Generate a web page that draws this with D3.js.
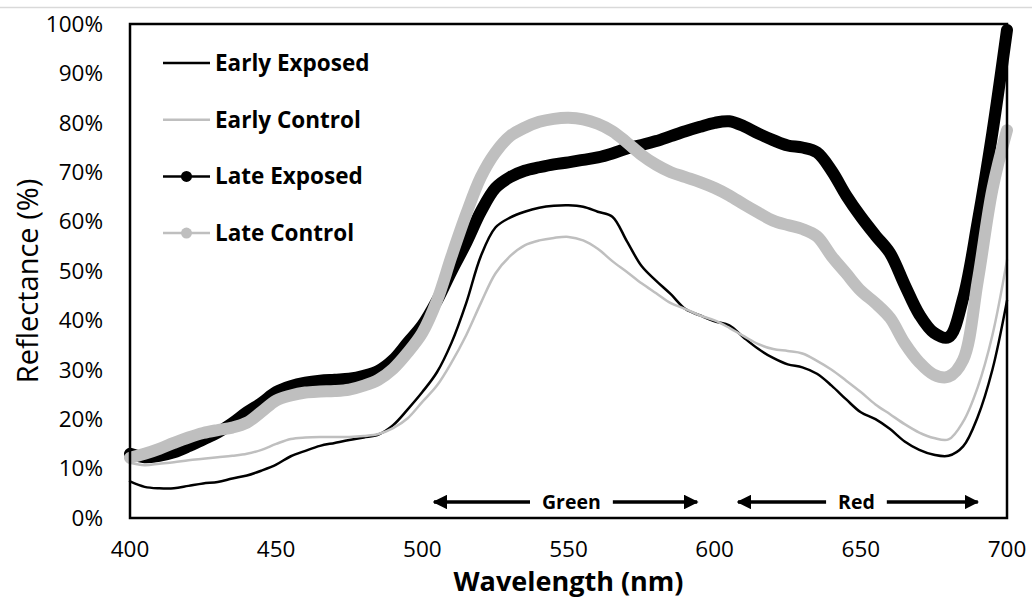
<!DOCTYPE html>
<html>
<head>
<meta charset="utf-8">
<script src="https://cdn.jsdelivr.net/npm/d3@7"></script>
<style>
  body { margin: 0; background: #fff; }
  text { font-family: "Open Sans", "DejaVu Sans", sans-serif; fill: #000; }
</style>
</head>
<body>
<svg id="chart" width="1032" height="598" viewBox="0 0 1032 598"></svg>
<script>
// wavelengths every 5 nm, 400..700
const wavelengths = d3.range(400, 701, 5)

const earlyExposed = [7.4, 6.3, 6.0, 6.0, 6.5, 7.0, 7.3, 8.0, 8.6, 9.6,
  10.8, 12.5, 13.6, 14.6, 15.2, 15.8, 16.3, 16.9, 18.8, 22.0,
  25.5, 29.5, 35.5, 43.5, 53.0, 58.8, 60.8, 62.0, 62.8, 63.2,
  63.3, 63.0, 62.0, 61.0, 56.0, 51.0, 48.0, 45.3, 42.3, 41.0,
  39.8, 39.0, 36.5, 34.2, 32.4, 31.1, 30.5, 29.2, 26.8, 24.0,
  21.4, 20.0, 18.0, 15.5, 13.8, 12.8, 12.6, 14.5, 20.5, 30.0, 44.0]

const earlyControl = [11.2, 10.7, 11.0, 11.3, 11.7, 12.0, 12.3, 12.6, 13.0, 13.8,
  15.0, 16.0, 16.3, 16.4, 16.4, 16.4, 16.6, 17.0, 18.2, 20.2,
  23.5, 26.8, 31.5, 37.0, 43.5, 49.5, 53.0, 55.2, 56.2, 56.7,
  56.9, 56.2, 54.5, 52.0, 49.8, 47.5, 45.5, 43.5, 42.3, 41.0,
  40.0, 38.5, 36.8, 35.2, 34.2, 33.8, 33.3, 31.8, 30.0, 27.8,
  25.5, 23.0, 21.0, 19.0, 17.3, 16.2, 15.9, 19.5, 26.5, 37.0, 52.2]

const lateExposed = [13.0, 12.3, 12.6, 13.3, 14.5, 15.9, 17.3, 19.2, 21.4, 23.3,
  25.5, 26.7, 27.4, 27.8, 28.0, 28.2, 28.8, 29.8, 32.0, 35.5,
  39.0, 44.0, 50.0, 55.7, 62.0, 66.8, 69.0, 70.3, 71.0, 71.6,
  72.0, 72.5, 73.0, 73.8, 74.8, 75.5, 76.3, 77.3, 78.3, 79.2,
  80.0, 80.3, 79.3, 77.8, 76.5, 75.4, 75.0, 74.0, 70.3, 65.3,
  61.0, 57.2, 53.6, 47.2, 41.2, 37.5, 36.6, 44.5, 60.0, 78.0, 98.8]

const lateControl = [12.2, 13.0, 14.0, 15.2, 16.3, 17.2, 17.8, 18.3, 19.3, 21.5,
  23.8, 24.8, 25.4, 25.6, 25.7, 26.0, 26.8, 28.0, 30.2, 33.5,
  37.5, 44.0, 53.0, 61.5, 69.0, 74.0, 77.3, 79.0, 80.2, 80.8,
  81.0, 80.7, 79.8, 78.3, 76.0, 73.5, 71.5, 70.0, 69.0, 68.0,
  66.8, 65.3, 63.5, 61.8, 60.2, 59.3, 58.5, 57.0, 53.0, 49.5,
  46.0, 43.5, 40.5, 35.4, 31.5, 29.0, 28.6, 32.0, 48.0, 66.5, 78.5]

const seriesNames = ["Early Exposed", "Early Control", "Late Exposed", "Late Control"]
const seriesValues = [earlyExposed, earlyControl, lateExposed, lateControl]
const seriesColors = ["#000000", "#bfbfbf", "#000000", "#bfbfbf"]
const seriesWidths = [2.5, 2.5, 12, 12]

const xTicks = [400, 450, 500, 550, 600, 650, 700]
const yTicks = d3.range(0, 101, 10)

// band annotations: [label, from nm, to nm, label centre nm]
const bands = [["Green", 504, 594, 551], ["Red", 608, 690, 648.5]]

const svg = d3.select("#chart")
const margin = {left: 130, right: 25, top: 24, bottom: 80}
const width = 1032, height = 598

const x = d3.scaleLinear().domain([400, 700]).range([margin.left, width - margin.right])
const y = d3.scaleLinear().domain([0, 100]).range([height - margin.bottom, margin.top])

// faint line across the very top
svg.append("line")
  .attr("x1", 0).attr("x2", width).attr("y1", 7.5).attr("y2", 7.5)
  .attr("stroke", "#d9d9d9").attr("stroke-width", 1.5)

// tick labels
svg.append("g").selectAll("text")
  .data(yTicks)
  .join("text")
  .attr("x", margin.left - 27)
  .attr("y", d => y(d))
  .attr("dy", "0.35em")
  .attr("text-anchor", "end")
  .attr("font-size", 22.5)
  .text(d => d + "%")

svg.append("g").selectAll("text")
  .data(xTicks)
  .join("text")
  .attr("x", d => x(d))
  .attr("y", y(0) + 31)
  .attr("dy", "0.35em")
  .attr("text-anchor", "middle")
  .attr("font-size", 22.5)
  .text(d => d)

// axis titles
svg.append("text")
  .attr("transform", `translate(38, ${y(50) + 10}) rotate(-90)`)
  .attr("text-anchor", "middle")
  .attr("font-size", 29)
  .text("Reflectance (%)")

svg.append("text")
  .attr("x", x(550))
  .attr("y", 591)
  .attr("text-anchor", "middle")
  .attr("font-size", 27)
  .attr("font-weight", "bold")
  .text("Wavelength (nm)")

// lines
const line = d3.line()
  .x((d, i) => x(wavelengths[i]))
  .y(d => y(d))
  .curve(d3.curveCatmullRom)

const plot = svg.append("g")
// draw thick ones first so thin ones sit on top
;[2, 3, 0, 1].forEach(k => {
  plot.append("path")
    .datum(seriesValues[k])
    .attr("d", line)
    .attr("fill", "none")
    .attr("stroke", seriesColors[k])
    .attr("stroke-width", seriesWidths[k])
    .attr("stroke-linejoin", "round")
    .attr("stroke-linecap", "round")
})

// frame
svg.append("rect")
  .attr("x", x(400)).attr("y", y(100))
  .attr("width", x(700) - x(400)).attr("height", y(0) - y(100))
  .attr("fill", "none").attr("stroke", "#000").attr("stroke-width", 2.5)

// band arrows
const defs = svg.append("defs")
defs.append("marker")
  .attr("id", "arrow")
  .attr("viewBox", "0 0 10 10")
  .attr("refX", 9).attr("refY", 5)
  .attr("markerWidth", 4.2).attr("markerHeight", 4.2)
  .attr("orient", "auto-start-reverse")
  .append("path").attr("d", "M0,0 L10,5 L0,10 Z").attr("fill", "#000")

const ay = y(0) - 16
bands.forEach(b => {
  const lbl = svg.append("text")
    .attr("x", x(b[3])).attr("y", ay)
    .attr("dy", "0.35em")
    .attr("text-anchor", "middle")
    .attr("font-size", 19.5)
    .attr("font-weight", "bold")
    .text(b[0])
  const w = lbl.node().getComputedTextLength() / 2 + 12
  svg.append("line")
    .attr("x1", x(b[3]) - w).attr("x2", x(b[1]))
    .attr("y1", ay).attr("y2", ay)
    .attr("stroke", "#000").attr("stroke-width", 3.5)
    .attr("marker-end", "url(#arrow)")
  svg.append("line")
    .attr("x1", x(b[3]) + w).attr("x2", x(b[2]))
    .attr("y1", ay).attr("y2", ay)
    .attr("stroke", "#000").attr("stroke-width", 3.5)
    .attr("marker-end", "url(#arrow)")
})

// legend
const legend = svg.append("g").attr("transform", "translate(163, 63)")
const rowGap = 56.7
seriesNames.forEach((name, k) => {
  const g = legend.append("g").attr("transform", `translate(0, ${k * rowGap})`)
  g.append("line")
    .attr("x1", 0).attr("x2", 47)
    .attr("stroke", seriesColors[k])
    .attr("stroke-width", 2.5)
  if (k >= 2) {
    g.append("circle").attr("cx", 23.5).attr("r", 5.5).attr("fill", seriesColors[k])
  }
  g.append("text")
    .attr("x", 52)
    .attr("dy", "0.35em")
    .attr("font-size", 22.5)
    .attr("font-weight", "bold")
    .text(name)
})
</script>
</body>
</html>
